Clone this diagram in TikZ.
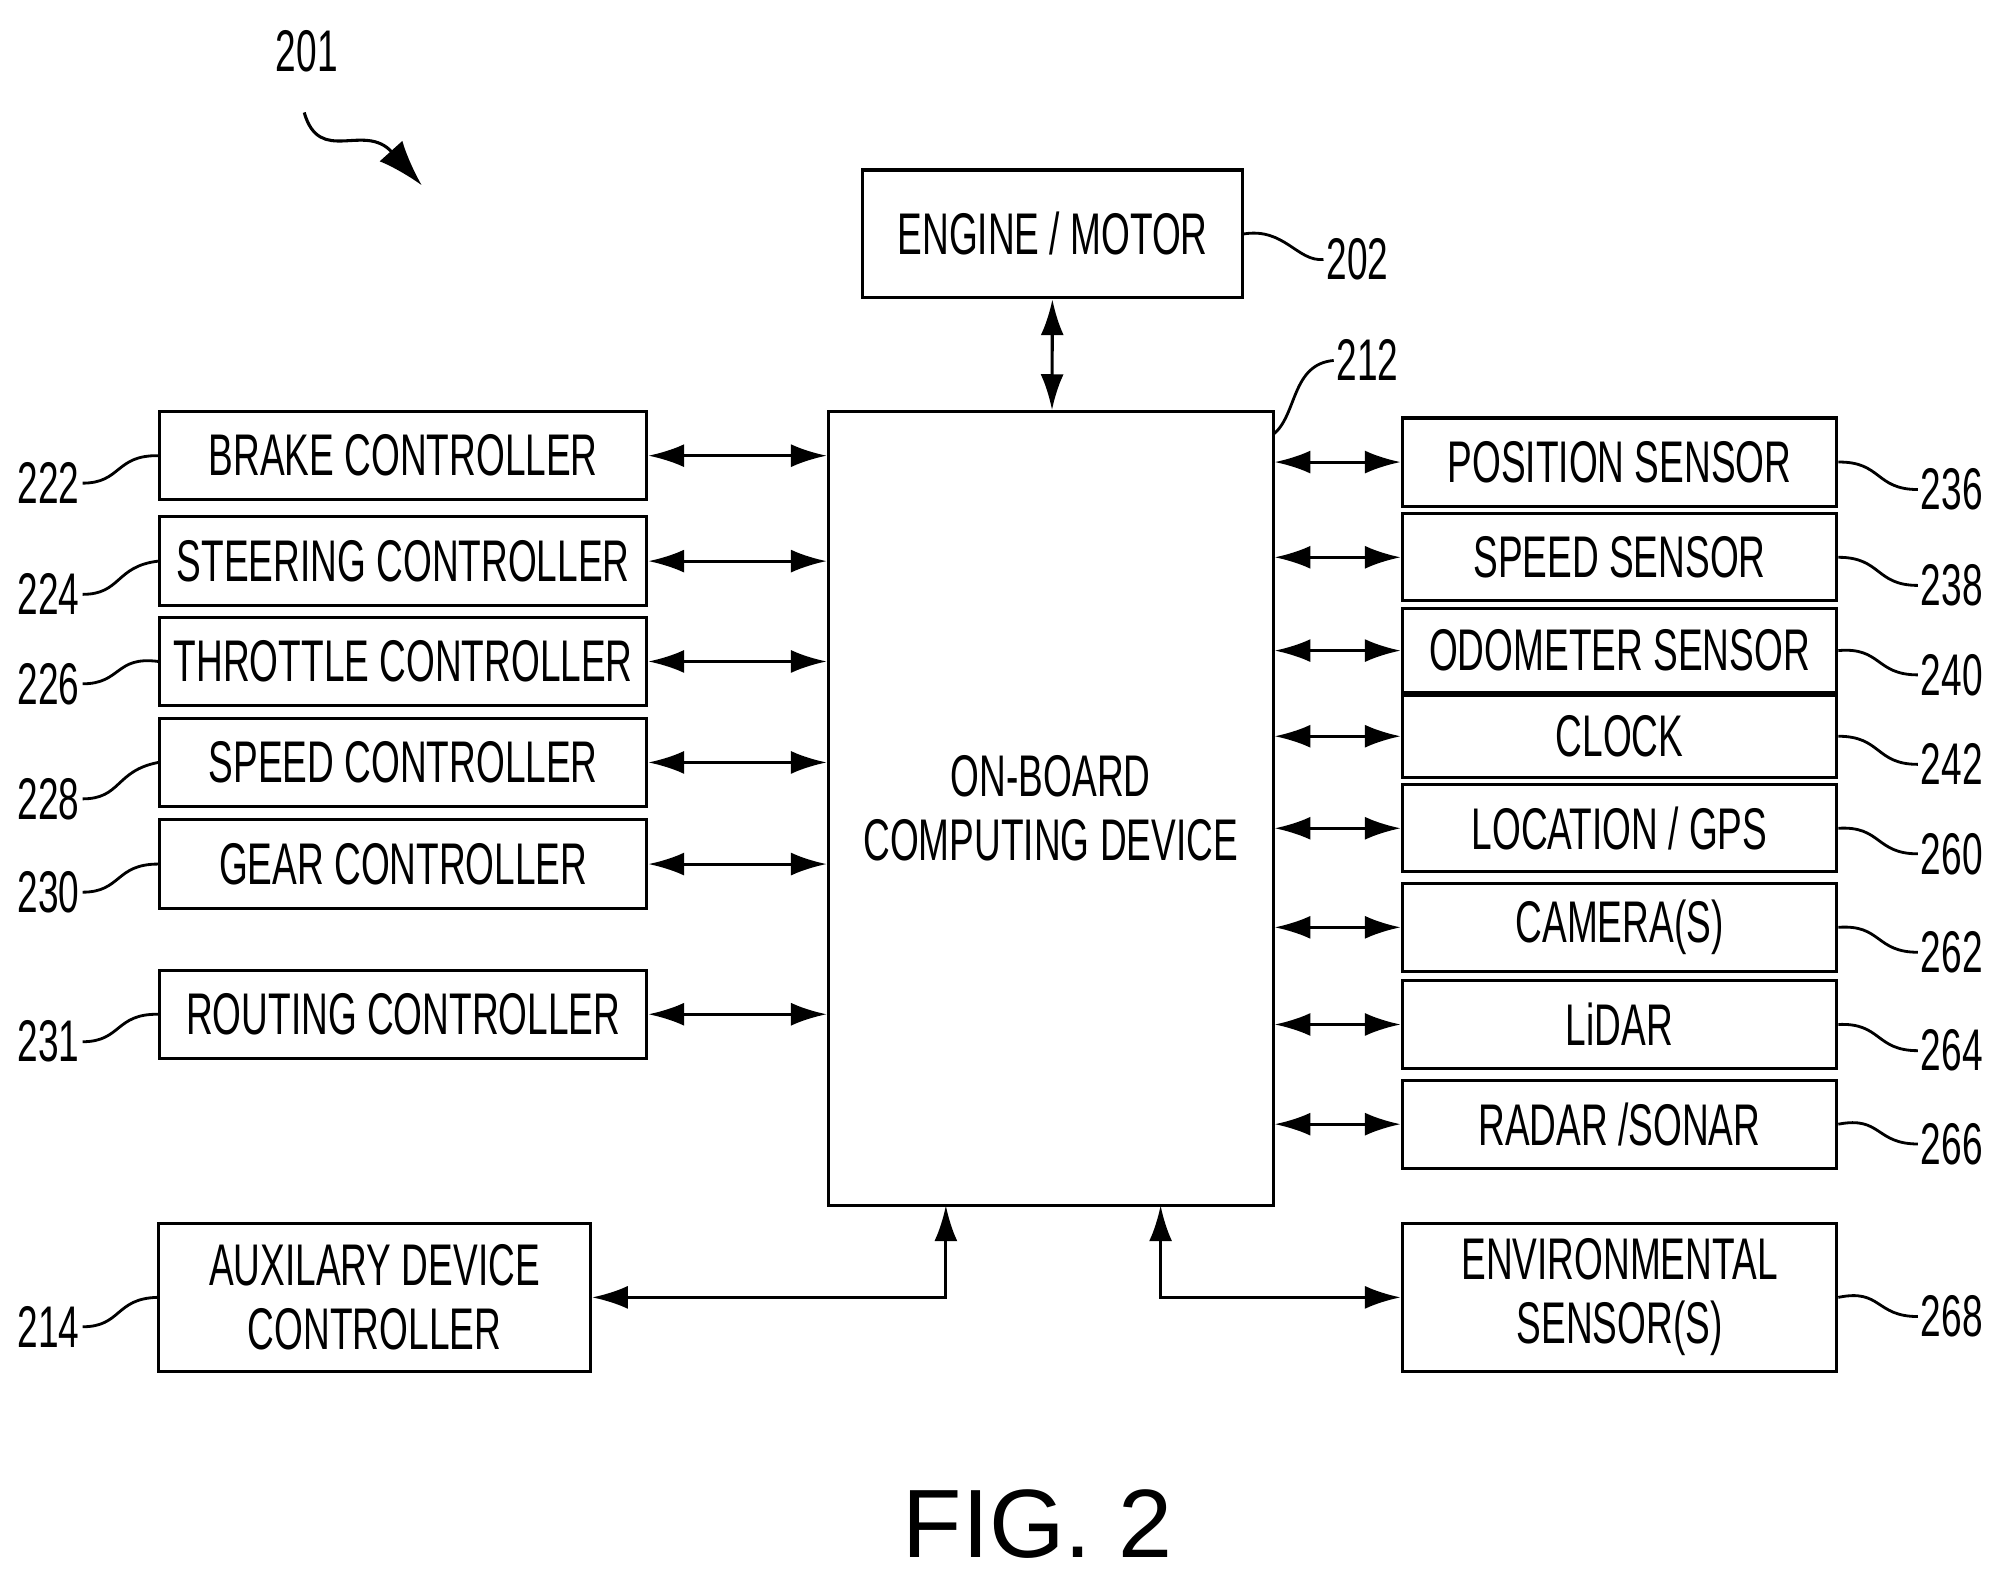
\documentclass[tikz,border=0pt]{standalone}
\usepackage{fontspec}
\setmainfont{Liberation Sans}[FakeStretch=0.63]
\newfontfamily\figfont{Liberation Sans}
\usetikzlibrary{arrows.meta}
\begin{document}
\begin{tikzpicture}[x=0.5pt,y=-0.5pt,
  bx/.style={draw,line width=1.2pt,inner sep=0pt,font=\fontsize{23}{25}\selectfont,align=center},
  ar/.style={line width=1.2pt,{Latex[length=14pt,width=9pt]}-{Latex[length=14pt,width=9pt]}},
  lead/.style={line width=1.1pt},
  num/.style={font=\fontsize{23}{25}\selectfont,inner sep=1pt}]
\useasboundingbox (0,0) rectangle (1560,1235);
\newcommand\bxx[6]{\node[bx,minimum width={(#4-#2)*0.5pt},minimum height={(#5-#3)*0.5pt}] (#1) at ({(#2+#4)/2},{(#3+#5)/2}) {#6};}
\bxx{eng}{675}{133}{972}{233}{ENGINE / MOTOR}
\bxx{main}{648}{322}{996}{943}{ON-BOARD\\COMPUTING DEVICE}
\bxx{brk}{125}{322}{506}{391}{BRAKE CONTROLLER}
\bxx{str}{125}{404}{506}{474}{STEERING CONTROLLER}
\bxx{thr}{125}{483}{506}{552}{THROTTLE CONTROLLER}
\bxx{spc}{125}{562}{506}{631}{SPEED CONTROLLER}
\bxx{gr}{125}{641}{506}{711}{GEAR CONTROLLER}
\bxx{rt}{125}{759}{506}{828}{ROUTING CONTROLLER}
\bxx{aux}{124}{957}{462}{1073}{AUXILARY DEVICE\\CONTROLLER}
\bxx{pos}{1097}{327}{1437}{396}{POSITION SENSOR}
\bxx{sps}{1097}{402}{1437}{470}{SPEED SENSOR}
\bxx{odo}{1097}{476}{1437}{542}{ODOMETER SENSOR}
\bxx{clk}{1097}{544}{1437}{608}{CLOCK}
\bxx{loc}{1097}{614}{1437}{682}{LOCATION / GPS}
\bxx{cam}{1097}{691}{1437}{760}{CAMERA(S)}
\bxx{lid}{1097}{767}{1437}{836}{LiDAR}
\bxx{rad}{1097}{845}{1437}{914}{RADAR /SONAR}
\bxx{env}{1097}{957}{1437}{1073}{ENVIRONMENTAL\\SENSOR(S)}
% arrows
\draw[ar] (eng) -- (main);
\foreach \n in {brk,str,thr,spc,gr,rt}{\draw[ar] (\n.east) -- (\n.east -| main.west);}
\foreach \n in {pos,sps,odo,clk,loc,cam,lid,rad}{\draw[ar] (\n.west -| main.east) -- (\n.west);}
\coordinate (ab) at (740,943);
\coordinate (eb) at (908,943);
\draw[ar] (aux.east) -- (aux.east -| ab) -- (ab);
\draw[ar] (eb) -- (eb |- env.west) -- (env.west);
% labels
\node[num] (n202) at (1062,203) {202};
\draw[lead] (eng.east) .. controls (1005,178) and (1015,205) .. (n202.west);
\node[num] (n212) at (1070,282) {212};
\coordinate (m212) at (996,340);
\draw[lead] (m212) .. controls (1015,325) and (1010,285) .. (n212.west);
\foreach \nm/\lb/\y in {brk/222/378,str/224/465,thr/226/535,spc/228/625,gr/230/698,rt/231/815,aux/214/1038}{
  \node[num] (l\lb) at (38,\y) {\lb};
  \draw[lead] (l\lb.east) .. controls (95,\y) and (90,{\y-22}) .. (\nm.west);}
\foreach \nm/\lb/\y in {pos/236/383,sps/238/458,odo/240/528,clk/242/598,loc/260/668,cam/262/745,lid/264/822,rad/266/895,env/268/1030}{
  \node[num] (l\lb) at (1527,\y) {\lb};
  \draw[lead] (\nm.east) .. controls (1472,{\y-22}) and (1467,\y) .. (l\lb.west);}
\node[num] (n201) at (240,40) {201};
\coordinate (t201) at (330,145);
\draw[line width=1.2pt,-{Latex[length=18pt,width=12pt]}] (238,88) .. controls (250,130) and (285,95) .. (t201);
\node[font=\figfont\fontsize{38}{42}\selectfont] (fig) at (812,1192) {FIG. 2};
\end{tikzpicture}
\end{document}
